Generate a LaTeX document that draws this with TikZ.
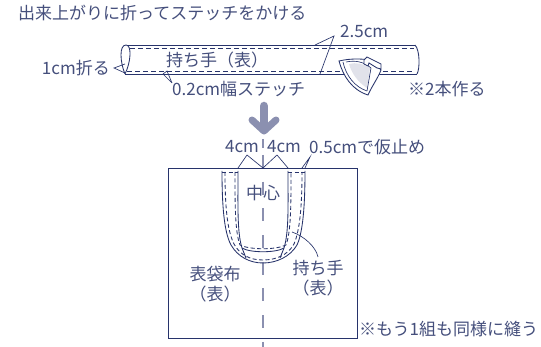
\documentclass[tikz,border=0pt]{standalone}
\usepackage{fontspec}
\setmainfont{Noto Sans CJK JP}
\usetikzlibrary{arrows.meta}
\definecolor{navy}{HTML}{27336B}
\definecolor{txt}{HTML}{454F7C}
\definecolor{gry}{HTML}{8B90B0}
\tikzset{
 x=1pt,y=-1pt,
 lbl/.style={text=txt,font=\fontsize{17pt}{20pt}\selectfont,inner sep=0pt,align=center},
 line/.style={draw=navy,line width=.85pt},
 thin line/.style={draw=navy,line width=.65pt},
 stitch/.style={draw=navy,line width=.9pt,dash pattern=on 5pt off 3pt},
 hstitch/.style={draw=navy,line width=.85pt,dash pattern=on 4pt off 2.5pt},
 center line/.style={draw=gry,line width=1.4pt,dash pattern=on 13pt off 13.7pt},
}
\begin{document}
\begin{tikzpicture}
\useasboundingbox[fill=white] (0,0) rectangle (541,347);
% tube
\draw[line] (125,74) -- (417,74) (127,45) -- (415,45);
\draw[line] (415,45) .. controls (420,50) and (420,69) .. (417,74);
\draw[line] (125,74) .. controls (120,62) and (119,45) .. (126,45) .. controls (132,45) and (131,62) .. (125,74);
\draw[stitch] (130,48) -- (414,48) (127,71) -- (414,71);
% leaders top
\coordinate (a1) at (114,68); \coordinate (a2) at (125,64); \coordinate (a3) at (125,73);
\draw[thin line] (a2) -- (a1) -- (a3);
\coordinate (b1) at (172,83); \coordinate (b2) at (163,74); \coordinate (b3) at (167,71);
\draw[thin line] (b1) -- (b2) -- (b3) -- (b1);
\coordinate (c1) at (334,36); \coordinate (c2) at (315,45); \coordinate (c3) at (320,74);
\draw[thin line] (c2) -- (c1) -- (c3);
% iron
\fill[white] (339,61) .. controls (352,58) and (362,59) .. (372,60) -- (381,70) .. controls (378,78) and (372,86) .. (368,95) .. controls (352,90) and (343,76) .. (339,61) -- cycle;
\fill[navy!14] (349,64) .. controls (356,62) and (364,64) .. (370,68) -- (367,88) .. controls (358,82) and (352,74) .. (349,64) -- cycle;
\draw[line] (339,61) .. controls (352,58) and (362,59) .. (372,60) -- (381,70) .. controls (378,78) and (372,86) .. (368,95) .. controls (352,90) and (343,76) .. (339,61) -- cycle;
\draw[thin line] (343,62) .. controls (346,76) and (355,87) .. (367,91);
\draw[thin line] (346,62) .. controls (356,60) and (364,62) .. (371,68) -- (367,91);
\draw[line,fill=white] (364,60) -- (367,57) -- (381,64) -- (381,69) -- (377,68) -- (369,63) -- (368,66) -- (364,64) -- cycle;
% arrow
\draw[gry,line width=8.5pt,line cap=round] (264,106) -- (264,128);
\draw[gry,line width=7pt,line cap=round,line join=round] (252,120) -- (264,131) -- (276,120);
% bag
\draw[line] (168,168) rectangle (357,338);
\draw[center line] (263,155) -- (263,347);
\draw[center line] (263,139) -- (263,148);
% handle
\draw[line] (222,171) .. controls (222,205) and (224,232) .. (231,245) .. controls (238,257) and (250,263) .. (263,263) .. controls (276,263) and (290,257) .. (297,245) .. controls (303,232) and (305,205) .. (305,171);
\draw[line] (238,171) .. controls (238,205) and (237,232) .. (242,248) -- (246,258);
\draw[line] (288,171) .. controls (288,205) and (289,232) .. (284,248) -- (280,258);
\draw[line] (242,248) .. controls (250,253) and (276,253) .. (284,248);
\draw[hstitch] (222,172) -- (238,172) (288,172) -- (305,172);
\draw[hstitch] (225,172) .. controls (225,205) and (227,230) .. (234,244) .. controls (240,255) and (250,260) .. (263,260) .. controls (276,260) and (288,255) .. (294,244) .. controls (300,230) and (302,205) .. (302,172);
\draw[hstitch] (235,172) .. controls (235,205) and (235,232) .. (240,245) .. controls (250,250) and (276,250) .. (286,245) .. controls (291,232) and (291,205) .. (291,172);
% leaders bottom
\coordinate (d1) at (238,168); \coordinate (d2) at (247,155); \coordinate (d3) at (263,168); \coordinate (d4) at (277,155); \coordinate (d5) at (288,168);
\draw[thin line] (d1) -- (d2) -- (d3) -- (d4) -- (d5);
\coordinate (e1) at (310,157); \coordinate (e2) at (302,168); \coordinate (e3) at (305,168);
\draw[thin line] (e2) -- (e1) -- (e3);
\coordinate (f1) at (318,257); \coordinate (f2) at (292,232);
\draw[thin line] (f1) .. controls (316,247) and (304,236) .. (f2);
% labels
\node[lbl,anchor=west] (t1) at (18,13) {出来上がりに折ってステッチをかける};
\node[lbl,anchor=west] (t2) at (340,31) {2.5cm};
\node[lbl,anchor=east] (t3) at (110,68) {1cm折る};
\node[lbl] (t4) at (217,60) {持ち手（表）};
\node[lbl,anchor=west] (t5) at (172,89) {0.2cm幅ステッチ};
\node[lbl,anchor=west] (t6) at (408,89) {※2本作る};
\node[lbl] (t7) at (242,147) {4cm};
\node[lbl] (t8) at (284,147) {4cm};
\node[lbl,anchor=west] (t9) at (309,147) {0.5cmで仮止め};
\node[lbl] (t10) at (263,193) {中心};
\node[lbl] (t11) at (215,284) {表袋布\\（表）};
\node[lbl] (t12) at (318,278) {持ち手\\（表）};
\node[lbl,anchor=west] (t13) at (359,329) {※もう1組も同様に縫う};
\end{tikzpicture}
\end{document}
